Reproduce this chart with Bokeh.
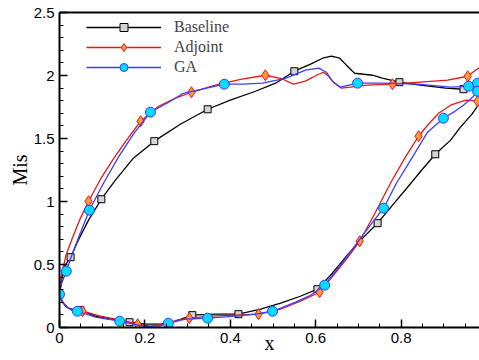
from bokeh.plotting import figure
from bokeh.models import (LinearAxis, FixedTicker, Legend, LegendItem, Range1d,
                          CustomJSTickFormatter, ColumnDataSource)
from bokeh.embed import file_html
from bokeh.resources import INLINE

# ---------------- data (x/c, isentropic Mach) ----------------
base_up_x = [0.000, 0.005, 0.012, 0.026, 0.044, 0.068, 0.098, 0.131, 0.173, 0.222, 0.283, 0.347,
             0.400, 0.459, 0.506, 0.550, 0.588, 0.616, 0.637, 0.656, 0.672, 0.691, 0.712, 0.733,
             0.756, 0.796, 0.845, 0.904, 0.946, 0.967, 0.990]
base_up_y = [0.264, 0.375, 0.487, 0.558, 0.693, 0.852, 1.018, 1.169, 1.344, 1.479, 1.613, 1.732,
             1.804, 1.875, 1.939, 2.034, 2.090, 2.137, 2.153, 2.137, 2.082, 2.018, 2.010, 2.002,
             1.979, 1.947, 1.923, 1.899, 1.891, 1.899, 1.915]
base_up_mk = [0, 3, 6, 9, 11, 15, 25, 28]

base_lo_x = [0.000, 0.005, 0.014, 0.033, 0.049, 0.084, 0.119, 0.164, 0.201, 0.237, 0.272, 0.311,
             0.365, 0.419, 0.471, 0.518, 0.564, 0.604, 0.639, 0.674, 0.710, 0.745, 0.780, 0.817,
             0.848, 0.880, 0.916, 0.939, 0.965, 0.984, 0.991]
base_lo_y = [0.264, 0.217, 0.169, 0.129, 0.137, 0.090, 0.066, 0.042, 0.026, 0.026, 0.050, 0.098,
             0.106, 0.106, 0.145, 0.193, 0.248, 0.304, 0.431, 0.574, 0.709, 0.828, 0.971, 1.121,
             1.248, 1.375, 1.487, 1.590, 1.690, 1.780, 1.843]
base_lo_mk = [4, 7, 11, 13, 17, 21, 25]

adj_up_x = [0.000, 0.002, 0.007, 0.016, 0.030, 0.047, 0.068, 0.096, 0.126, 0.157, 0.190, 0.232,
            0.272, 0.309, 0.365, 0.424, 0.482, 0.518, 0.548, 0.576, 0.602, 0.618, 0.630, 0.644,
            0.660, 0.681, 0.721, 0.780, 0.845, 0.909, 0.956, 0.974, 0.990]
adj_up_y = [0.264, 0.344, 0.455, 0.582, 0.709, 0.852, 1.002, 1.177, 1.336, 1.487, 1.637, 1.756,
            1.820, 1.867, 1.923, 1.970, 2.002, 1.978, 1.931, 1.955, 2.002, 2.026, 1.994, 1.939,
            1.899, 1.907, 1.923, 1.931, 1.947, 1.963, 1.994, 2.042, 2.074]
adj_up_mk = [6, 10, 13, 16, 27, 30]

adj_lo_x = [0.000, 0.007, 0.021, 0.054, 0.096, 0.143, 0.183, 0.213, 0.248, 0.276, 0.304, 0.354,
            0.412, 0.466, 0.518, 0.564, 0.609, 0.642, 0.674, 0.703, 0.740, 0.775, 0.810, 0.841,
            0.864, 0.888, 0.916, 0.951, 0.979, 0.990]
adj_lo_y = [0.264, 0.201, 0.153, 0.129, 0.090, 0.058, 0.026, 0.010, 0.026, 0.058, 0.074, 0.090,
            0.098, 0.106, 0.145, 0.209, 0.280, 0.415, 0.550, 0.685, 0.915, 1.145, 1.352, 1.518,
            1.613, 1.700, 1.764, 1.804, 1.796, 1.860]
adj_lo_mk = [3, 6, 10, 13, 16, 19, 23, 28]

ga_up_x = [0.000, 0.005, 0.016, 0.028, 0.044, 0.070, 0.103, 0.138, 0.173, 0.213, 0.260, 0.290,
           0.386, 0.431, 0.475, 0.529, 0.576, 0.607, 0.625, 0.639, 0.658, 0.698, 0.759, 0.838,
           0.916, 0.958, 0.979, 0.990]
ga_up_y = [0.264, 0.352, 0.447, 0.566, 0.709, 0.931, 1.145, 1.352, 1.534, 1.709, 1.796, 1.859,
           1.931, 1.931, 1.939, 1.978, 2.042, 2.058, 2.026, 1.955, 1.907, 1.939, 1.939, 1.931,
           1.907, 1.915, 1.939, 1.947]
ga_up_mk = [0, 2, 5, 9, 12, 21, 25, 26]

ga_lo_x = [0.000, 0.007, 0.021, 0.042, 0.084, 0.141, 0.185, 0.225, 0.255, 0.295, 0.347, 0.412,
           0.459, 0.499, 0.553, 0.588, 0.621, 0.658, 0.693, 0.728, 0.759, 0.789, 0.822, 0.862,
           0.899, 0.923, 0.946, 0.967, 0.979, 0.990]
ga_lo_y = [0.264, 0.201, 0.153, 0.129, 0.082, 0.050, 0.018, 0.002, 0.034, 0.066, 0.074, 0.090,
           0.106, 0.129, 0.201, 0.256, 0.336, 0.494, 0.653, 0.812, 0.947, 1.145, 1.327, 1.550,
           1.661, 1.709, 1.764, 1.827, 1.875, 1.915]
ga_lo_mk = [3, 5, 8, 10, 13, 16, 20, 24, 28]

x_ticks = [0, 0.2, 0.4, 0.6, 0.8]
y_ticks = [0, 0.5, 1, 1.5, 2, 2.5]
x_minor = [i * 0.05 for i in range(0, 21)]
y_minor = [i * 0.1 for i in range(0, 26)]

# ---------------- figure ----------------
p = figure(width=479, height=360, output_backend="svg", toolbar_location=None,
           x_range=Range1d(0, 0.9836), y_range=Range1d(0, 2.5),
           min_border_left=59, min_border_right=0, min_border_top=12, min_border_bottom=33)
p.outline_line_color = None
p.grid.visible = False
p.background_fill_color = "white"
p.border_fill_color = "white"

fmt = CustomJSTickFormatter(code="return String(Math.round(tick*10)/10);")

for ax in (p.xaxis[0], p.yaxis[0]):
    ax.axis_line_width = 2
    ax.axis_line_color = "black"
    ax.major_tick_in = 8
    ax.major_tick_out = 0
    ax.minor_tick_in = 4
    ax.minor_tick_out = 0
    ax.major_tick_line_width = 1.5
    ax.minor_tick_line_width = 1
    ax.major_label_text_font = "Liberation Sans"
    ax.major_label_text_font_size = "15px"
    ax.major_label_text_color = "black"
    ax.axis_label_text_font = "Liberation Serif"
    ax.axis_label_text_font_size = "20px"
    ax.axis_label_text_font_style = "normal"
    ax.axis_label_text_color = "black"
    ax.formatter = fmt

p.xaxis[0].ticker = FixedTicker(ticks=x_ticks, minor_ticks=x_minor)
p.yaxis[0].ticker = FixedTicker(ticks=y_ticks, minor_ticks=y_minor)
p.yaxis[0].axis_label = "Mis"
p.xaxis[0].axis_label = "x"
p.xaxis[0].major_label_standoff = 5
p.yaxis[0].major_label_standoff = 5
p.yaxis[0].axis_label_standoff = 0
p.xaxis[0].axis_label_standoff = -14

top = LinearAxis(ticker=FixedTicker(ticks=[]), major_label_text_font_size="0px",
                 major_tick_in=0, major_tick_out=0, minor_tick_in=0, minor_tick_out=0,
                 axis_line_width=2, axis_line_color="black")
p.add_layout(top, "above")

styles = [
    ("Baseline", base_up_x, base_up_y, base_up_mk, base_lo_x, base_lo_y, base_lo_mk,
     dict(color="black"), dict(marker="square", size=7, fill_color="#d4d4d4", line_color="black")),
    ("Adjoint", adj_up_x, adj_up_y, adj_up_mk, adj_lo_x, adj_lo_y, adj_lo_mk,
     dict(color="#e51717"), dict(marker="diamond", size=11, fill_color="#ff9a3c", line_color="#e51717")),
    ("GA", ga_up_x, ga_up_y, ga_up_mk, ga_lo_x, ga_lo_y, ga_lo_mk,
     dict(color="#3c3cff"), dict(marker="circle", size=10, fill_color="#00dcff", line_color="#3c3cff")),
]

items = []
for name, ux, uy, umk, lx, ly, lmk, lst, mst in styles:
    lr1 = p.line(ux, uy, line_width=1.3, line_color=lst["color"])
    lr2 = p.line(lx, ly, line_width=1.3, line_color=lst["color"])
    mx = [ux[i] for i in umk] + [lx[i] for i in lmk]
    my = [uy[i] for i in umk] + [ly[i] for i in lmk]
    src = ColumnDataSource(dict(x=mx, y=my))
    mr = p.scatter("x", "y", source=src, marker=mst["marker"], size=mst["size"],
                   fill_color=mst["fill_color"], line_color=mst["line_color"], line_width=1)
    items.append(LegendItem(label=name, renderers=[lr1, mr]))

legend = Legend(items=items, location=(27, 250), border_line_alpha=0, background_fill_alpha=0,
                glyph_width=75, glyph_height=20, label_standoff=13, spacing=0, padding=0, margin=0,
                label_text_font="Liberation Serif", label_text_font_size="16px", label_height=20)
p.add_layout(legend)

open("out.html", "w").write(file_html(p, INLINE))
